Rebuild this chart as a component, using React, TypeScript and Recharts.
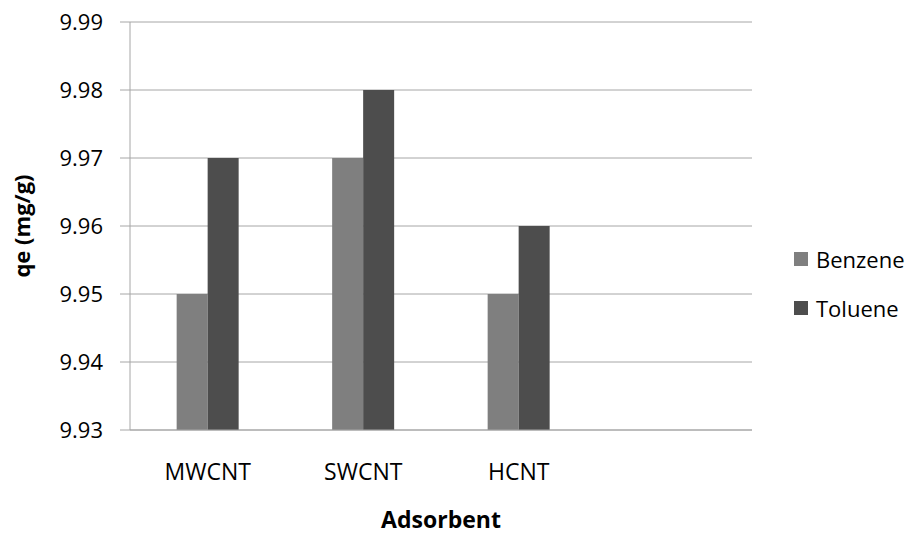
import { Bar, BarChart, CartesianGrid, Label, Legend, XAxis, YAxis } from "recharts";

const categories = ["MWCNT", "SWCNT", "HCNT", ""];
const benzene = [9.95, 9.97, 9.95, null];
const toluene = [9.97, 9.98, 9.96, null];
const yTicks = [9.93, 9.94, 9.95, 9.96, 9.97, 9.98, 9.99];

const data = categories.map((name, i) => ({
  name,
  benzene: benzene[i],
  toluene: toluene[i],
}));

const FONT = "'Open Sans', sans-serif";
const GRID = "#a6a6a6";

const legendItems = [
  { label: "Benzene", color: "#7f7f7f" },
  { label: "Toluene", color: "#4d4d4d" },
];

function LegendBox() {
  return (
    <div style={{ fontFamily: FONT, fontSize: 22, color: "#000" }}>
      {legendItems.map((item) => (
        <div
          key={item.label}
          style={{ display: "flex", alignItems: "center", height: 49, whiteSpace: "nowrap" }}
        >
          <span
            style={{
              display: "inline-block",
              width: 14,
              height: 14,
              background: item.color,
              marginRight: 8,
            }}
          />
          {item.label}
        </div>
      ))}
    </div>
  );
}

export default function App() {
  return (
    <div style={{ position: "absolute", left: 0, top: 0, background: "#fff" }}>
      <BarChart
        width={908}
        height={536}
        data={data}
        margin={{ top: 22, right: 156, left: 0, bottom: 6 }}
        barCategoryGap="30%"
        barGap={0}
      >
        <CartesianGrid vertical={false} stroke={GRID} strokeWidth={1} />
        <XAxis
          dataKey="name"
          height={100}
          stroke={GRID}
          tickLine={false}
          tickSize={0}
          tickMargin={34}
          tick={{ fill: "#000", fontSize: 23, fontFamily: FONT }}
          interval={0}
        >
          <Label
            content={({ viewBox }: any) => (
              <text
                x={viewBox.x + viewBox.width / 2}
                y={viewBox.y + 98}
                textAnchor="middle"
                fontFamily={FONT}
                fontSize={23}
                fontWeight="bold"
                fill="#000"
              >
                Adsorbent
              </text>
            )}
          />
        </XAxis>
        <YAxis
          width={130}
          domain={[9.93, 9.99]}
          ticks={yTicks}
          allowDataOverflow
          stroke={GRID}
          tickSize={10}
          tickMargin={17}
          tickFormatter={(v: number) => v.toFixed(2)}
          tick={{ fill: "#000", fontSize: 22, fontFamily: FONT }}
        >
          <Label
            content={({ viewBox }: any) => {
              const cx = viewBox.x + 21;
              const cy = viewBox.y + viewBox.height / 2;
              return (
                <text
                  x={cx}
                  y={cy}
                  transform={`rotate(-90, ${cx}, ${cy})`}
                  textAnchor="middle"
                  dominantBaseline="central"
                  fontFamily={FONT}
                  fontSize={22}
                  fontWeight="bold"
                  fill="#000"
                >
                  qe (mg/g)
                </text>
              );
            }}
          />
        </YAxis>
        <Legend
          layout="vertical"
          align="center"
          verticalAlign="middle"
          content={() => <LegendBox />}
          wrapperStyle={{ left: 794, top: 234, width: 114 }}
        />
        <Bar dataKey="benzene" name="Benzene" fill="#7f7f7f" isAnimationActive={false} />
        <Bar dataKey="toluene" name="Toluene" fill="#4d4d4d" isAnimationActive={false} />
      </BarChart>
    </div>
  );
}
